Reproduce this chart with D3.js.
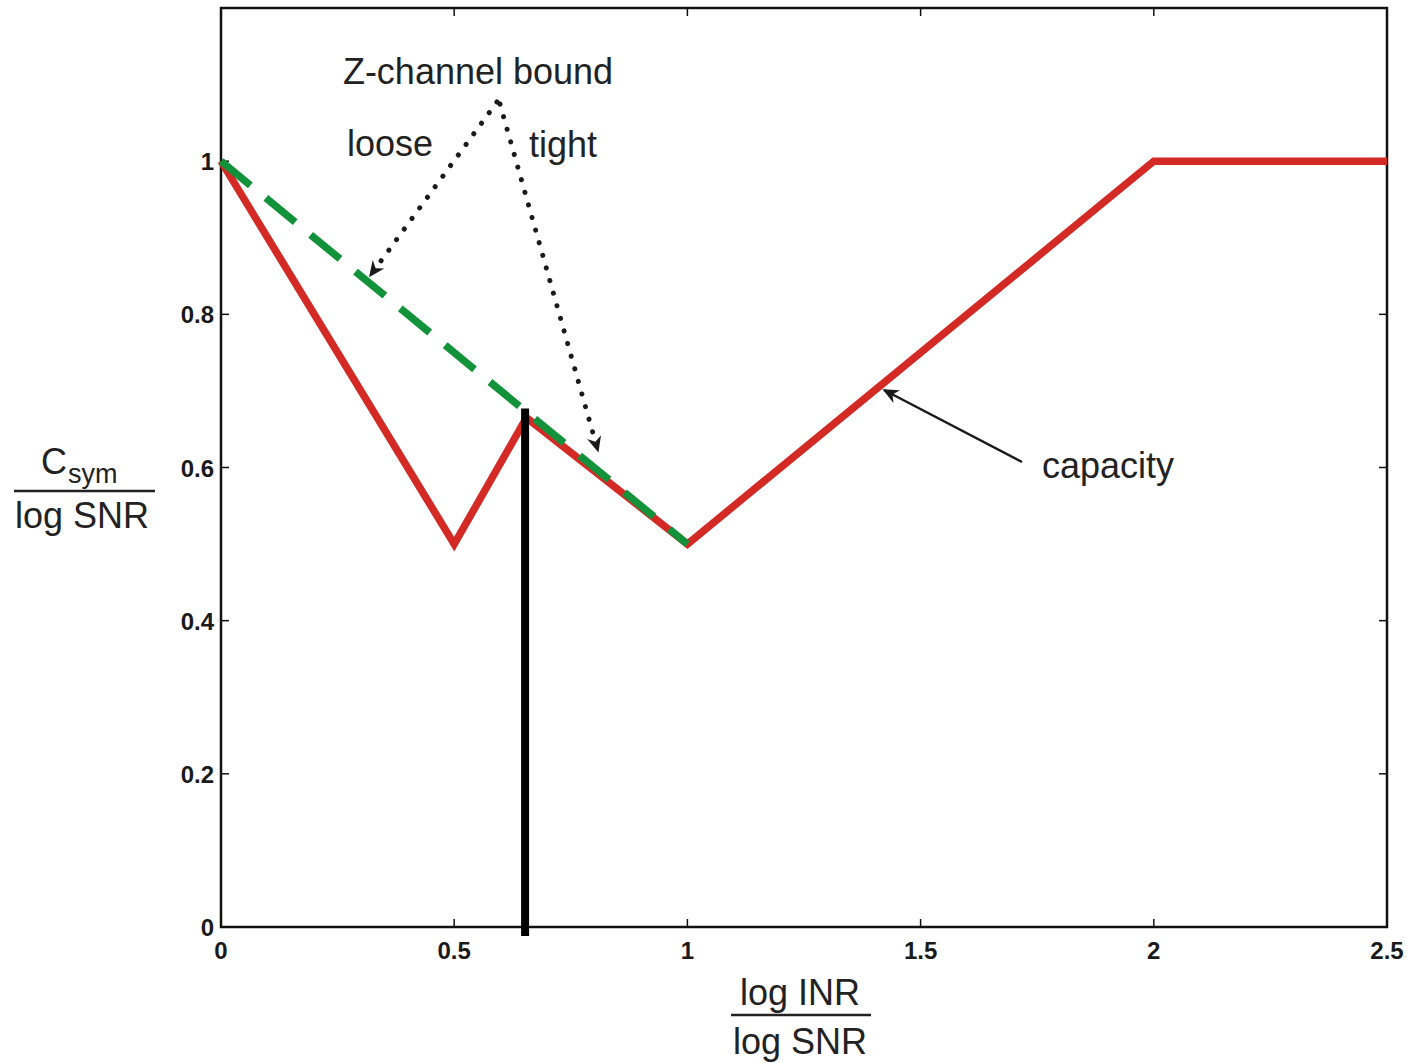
<!DOCTYPE html>
<html><head><meta charset="utf-8">
<script src="https://cdn.jsdelivr.net/npm/d3@7"></script>
<style>body{margin:0;background:#fff}svg{display:block}text{font-family:"Liberation Sans",Arial,sans-serif}</style>
</head><body>
<svg id="c" width="1411" height="1063"></svg>
<script>
const capacityX = [0, 0.5, 0.655, 1, 2, 2.5];
const capacityY = [1, 0.5, 0.665, 0.5, 1, 1];
const boundX = [0, 1];
const boundY = [1, 0.5];
const markerX = 0.652;
const markerTop = 0.677;
const xTicks = [0, 0.5, 1, 1.5, 2, 2.5];
const xTickLabels = ["0", "0.5", "1", "1.5", "2", "2.5"];
const yTicks = [0, 0.2, 0.4, 0.6, 0.8, 1];
const yTickLabels = ["0", "0.2", "0.4", "0.6", "0.8", "1"];

const svg = d3.select("#c");
const L = 221, R = 1387, T = 8, B = 927;
const x = d3.scaleLinear().domain([0, 2.5]).range([L, R]);
const y = d3.scaleLinear().domain([0, 1.2]).range([B, T]);

svg.append("defs").html(`
<marker id="ah" viewBox="0 0 10 10" refX="9" refY="5" markerWidth="16" markerHeight="16" markerUnits="userSpaceOnUse" orient="auto"><path d="M0,0.5 L10,5 L0,9.5 L3,5 Z" fill="#1a1a1a"/></marker>
`);

svg.append("rect").attr("x", L).attr("y", T).attr("width", R - L).attr("height", B - T)
  .attr("fill", "none").attr("stroke", "#111").attr("stroke-width", 2.5);

const tk = 8;
const g = svg.append("g");
xTicks.forEach((v, i) => {
  g.append("line").attr("x1", x(v)).attr("x2", x(v)).attr("y1", B).attr("y2", B - tk).attr("stroke", "#111").attr("stroke-width", 1.5);
  g.append("line").attr("x1", x(v)).attr("x2", x(v)).attr("y1", T).attr("y2", T + tk).attr("stroke", "#111").attr("stroke-width", 1.5);
  g.append("text").attr("x", x(v)).attr("y", 959).attr("text-anchor", "middle")
    .attr("font-size", 24).attr("font-weight", "bold").attr("fill", "#1a1a1a").text(xTickLabels[i]);
});
yTicks.forEach((v, i) => {
  g.append("line").attr("x1", L).attr("x2", L + tk).attr("y1", y(v)).attr("y2", y(v)).attr("stroke", "#111").attr("stroke-width", 1.5);
  g.append("line").attr("x1", R).attr("x2", R - tk).attr("y1", y(v)).attr("y2", y(v)).attr("stroke", "#111").attr("stroke-width", 1.5);
  g.append("text").attr("x", 214).attr("y", y(v) + 9).attr("text-anchor", "end")
    .attr("font-size", 24).attr("font-weight", "bold").attr("fill", "#1a1a1a").text(yTickLabels[i]);
});

const line = d3.line().x(d => x(d[0])).y(d => y(d[1]));
svg.append("path").datum(capacityX.map((v, i) => [v, capacityY[i]]))
  .attr("d", line).attr("fill", "none").attr("stroke", "#d42a26").attr("stroke-width", 7.5).attr("stroke-linejoin", "miter");
svg.append("path").datum(boundX.map((v, i) => [v, boundY[i]]))
  .attr("d", line).attr("fill", "none").attr("stroke", "#12923a").attr("stroke-width", 7.5).attr("stroke-dasharray", "38,20");

svg.append("line").attr("x1", x(markerX)).attr("x2", x(markerX)).attr("y1", y(markerTop)).attr("y2", B + 9)
  .attr("stroke", "#000").attr("stroke-width", 8);

const fs = 36;
svg.append("text").attr("x", 478).attr("y", 84).attr("text-anchor", "middle").attr("font-size", fs).attr("fill", "#222").text("Z-channel bound");
svg.append("text").attr("x", 390).attr("y", 156).attr("text-anchor", "middle").attr("font-size", fs).attr("fill", "#222").text("loose");
svg.append("text").attr("x", 563).attr("y", 157).attr("text-anchor", "middle").attr("font-size", fs).attr("fill", "#222").text("tight");
svg.append("text").attr("x", 1108).attr("y", 478).attr("text-anchor", "middle").attr("font-size", fs).attr("fill", "#222").text("capacity");

svg.append("line").attr("x1", 497).attr("y1", 102).attr("x2", 370).attr("y2", 276)
  .attr("stroke", "#1a1a1a").attr("stroke-width", 5).attr("stroke-dasharray", "0.1,13").attr("stroke-linecap", "round").attr("marker-end", "url(#ah)");
svg.append("line").attr("x1", 500).attr("y1", 104).attr("x2", 598).attr("y2", 451)
  .attr("stroke", "#1a1a1a").attr("stroke-width", 5).attr("stroke-dasharray", "0.1,13").attr("stroke-linecap", "round").attr("marker-end", "url(#ah)");
svg.append("line").attr("x1", 1022).attr("y1", 462).attr("x2", 884).attr("y2", 390)
  .attr("stroke", "#1a1a1a").attr("stroke-width", 2.5).attr("marker-end", "url(#ah)");

const yl = svg.append("g");
yl.append("text").attr("x", 41).attr("y", 474).attr("font-size", 36).attr("fill", "#222").text("C");
yl.append("text").attr("x", 68).attr("y", 483).attr("font-size", 27).attr("fill", "#222").text("sym");
yl.append("line").attr("x1", 14).attr("x2", 155).attr("y1", 491).attr("y2", 491).attr("stroke", "#222").attr("stroke-width", 2.5);
yl.append("text").attr("x", 82).attr("y", 528).attr("text-anchor", "middle").attr("font-size", 36).attr("fill", "#222").text("log SNR");

const xl = svg.append("g");
xl.append("text").attr("x", 800).attr("y", 1005).attr("text-anchor", "middle").attr("font-size", 36).attr("fill", "#222").text("log INR");
xl.append("line").attr("x1", 731).attr("x2", 871).attr("y1", 1015).attr("y2", 1015).attr("stroke", "#222").attr("stroke-width", 2.5);
xl.append("text").attr("x", 800).attr("y", 1054).attr("text-anchor", "middle").attr("font-size", 36).attr("fill", "#222").text("log SNR");
</script>
</body></html>
